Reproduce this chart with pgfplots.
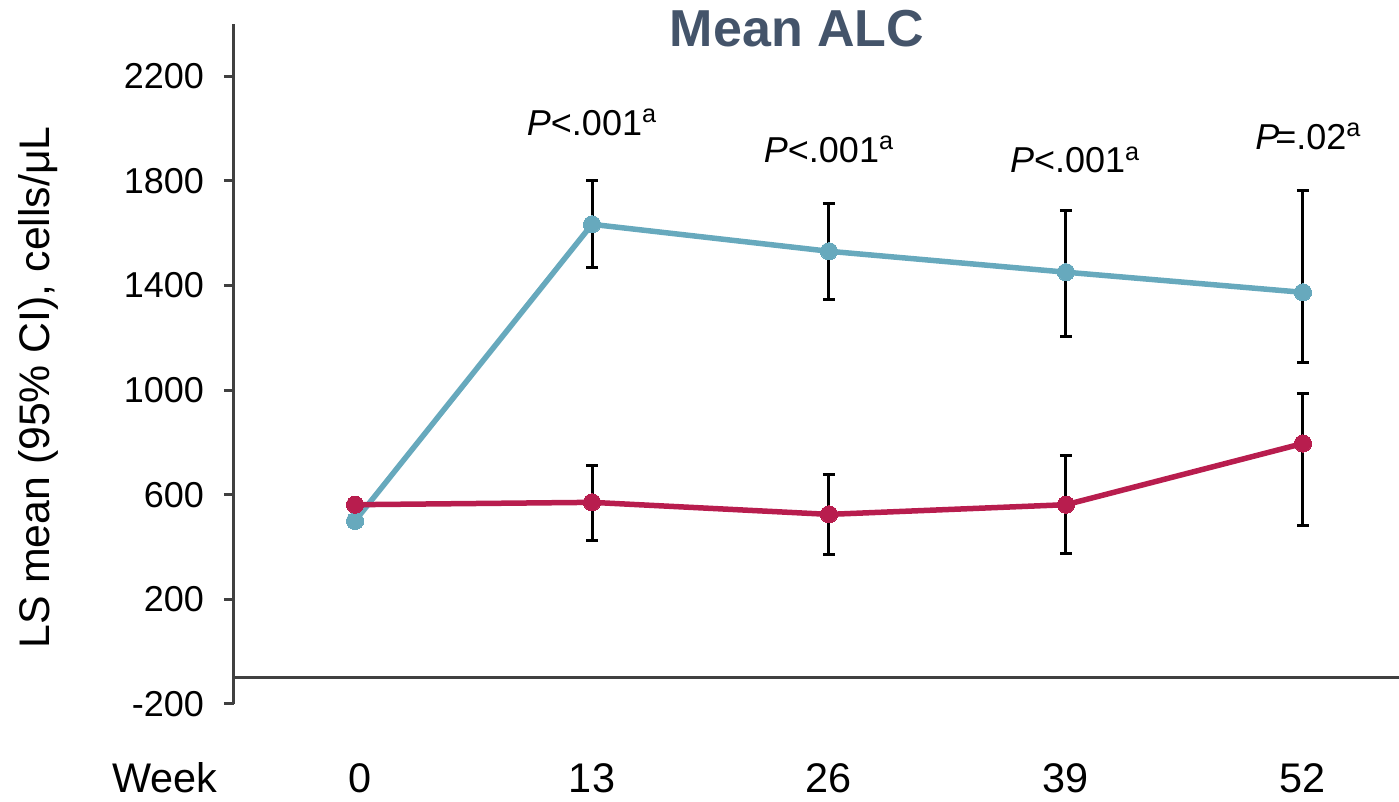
\documentclass[border=0pt]{standalone}
\usepackage{fontspec}
\setmainfont{Liberation Sans}
\usepackage{pgfplots}
\pgfplotsset{compat=1.18}
\definecolor{cblue}{RGB}{103,169,189}
\definecolor{cred}{RGB}{184,29,78}
\definecolor{axgray}{RGB}{64,64,64}
\definecolor{ttl}{RGB}{68,84,106}
\begin{document}
\begin{tikzpicture}
\begin{axis}[
  scale only axis,
  width=582.5pt, height=340pt,
  xmin=-6.64, xmax=57.27,
  ymin=-200, ymax=2400,
  axis y line*=left, axis x line*=bottom,
  x axis line style={draw=none},
  y axis line style={-, draw=axgray, line width=1.5pt},
  xtick={0,13,26,39,52},
  xticklabels={\hspace*{5pt}0,13,26,39,52},
  major x tick style={draw=none},
  ytick={-200,200,600,1000,1400,1800,2200},
  tick align=outside,
  major tick length=5pt,
  ytick style={draw=axgray, line width=1.5pt},
  /pgf/number format/assume math mode=true,
  /pgf/number format/1000 sep={},
  yticklabel style={font=\fontsize{18}{21}\selectfont, text=black, xshift=-6.5pt},
  xticklabel style={font=\fontsize{20.7}{24}\selectfont, text=black, anchor=base, inner sep=0pt, yshift=-39.2pt},
  clip=false,
  error bars/error bar style={black, line width=1.5pt},
  error bars/error mark options={black, rotate=90, mark size=3pt, line width=1.5pt},
]
\draw[axgray, line width=1.5pt] (axis cs:-6.64,-100) -- (axis cs:57.27,-100);
\addplot[cblue, line width=2.75pt, mark=*, mark size=4.3pt,
  mark options={fill=cblue, draw=cblue, line width=0pt},
  error bars/.cd, y dir=both, y explicit]
 coordinates {
  (0,500) += (0,0) -= (0,0)
  (13,1634) += (0,169) -= (0,165)
  (26,1531) += (0,184) -= (0,183)
  (39,1451) += (0,237) -= (0,245)
  (52,1374) += (0,391) -= (0,267)
 };
\addplot[cred, line width=2.75pt, mark=*, mark size=4.3pt,
  mark options={fill=cred, draw=cred, line width=0pt},
  error bars/.cd, y dir=both, y explicit]
 coordinates {
  (0,562) += (0,0) -= (0,0)
  (13,571) += (0,141) -= (0,146)
  (26,525) += (0,153) -= (0,153)
  (39,562) += (0,188) -= (0,188)
  (52,796) += (0,192) -= (0,313)
 };
\node[anchor=base, inner sep=0pt, font=\fontsize{20.7}{24}\selectfont] at ([yshift=-44.2pt]axis cs:-10.42,-200) {Week};
\node[anchor=base, font=\bfseries\fontsize{26}{30}\selectfont, text=ttl] at (axis cs:24.25,2313) {Mean ALC};
\node[rotate=90, font=\fontsize{21.4}{25}\selectfont] at ([xshift=-98pt]rel axis cs:0,0.466) {LS mean (95\% CI), cells/μL};
\node[anchor=base, font=\fontsize{18}{22}\selectfont] at (axis cs:13,1974) {\textit{P}<.001\textsuperscript{a}};
\node[anchor=base, font=\fontsize{18}{22}\selectfont] at (axis cs:26,1871) {\textit{P}<.001\textsuperscript{a}};
\node[anchor=base, font=\fontsize{18}{22}\selectfont] at (axis cs:39.5,1832) {\textit{P}<.001\textsuperscript{a}};
\node[anchor=base, font=\fontsize{18}{22}\selectfont] at (axis cs:52.3,1921) {\textit{P}\kern-2pt=.02\textsuperscript{a}};
\coordinate (sw) at (rel axis cs:0,0);
\coordinate (ne) at (rel axis cs:1,1);
\end{axis}
\pgfresetboundingbox
\path[use as bounding box] ([shift={(-117pt,-49pt)}]sw) rectangle ([shift={(0pt,12pt)}]ne);
\end{tikzpicture}
\end{document}
